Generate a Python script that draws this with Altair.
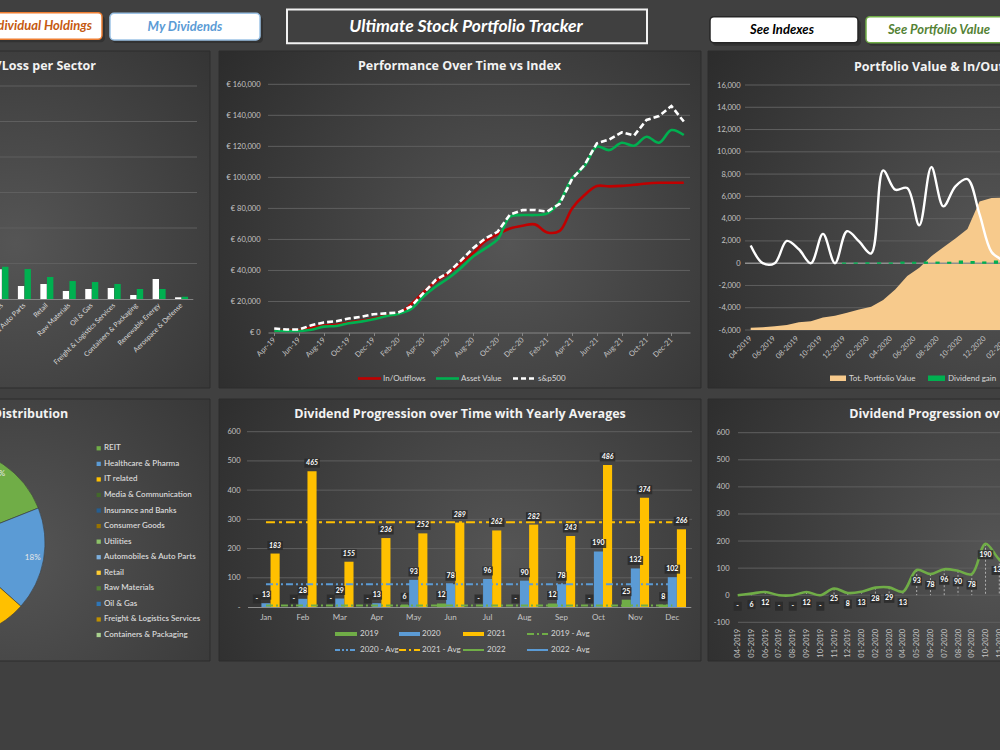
import altair as alt
import pandas as pd

W, H = 1000, 750
FONT = "Lato"
TFONT = "Open Sans"
LBL = "#c4c4c4"
LEG = "#d9d9d9"
GRID = "#5f5f5f"
TITLE = "#f2f2f2"

# ---------------- categories / tick labels ----------------
_months = pd.date_range("2019-04-01", periods=34, freq="MS")
perf_months = [d.strftime("%b-%y") for d in _months]      # Apr-19 ...
flow_months = [d.strftime("%m-%Y") for d in _months]      # 04-2019 ...
div_months = flow_months[:33]
month_names = ["Jan", "Feb", "Mar", "Apr", "May", "Jun", "Jul", "Aug", "Sep", "Oct", "Nov", "Dec"]
years = ["2019", "2020", "2021"]
sectors = ["REIT", "Healthcare & Pharma", "IT related", "Media & Communication",
           "Insurance and Banks", "Consumer Goods", "Utilities", "Automobiles & Auto Parts",
           "Retail", "Raw Materials", "Oil & Gas", "Freight & Logistics Services",
           "Containers & Packaging", "Renewable Energy", "Aerospace & Defense"]
pie_sectors = sectors[:13]

# ---------------- Gain/Loss per sector (EUR) ----------------
sector_invested = [17000, 15000, 12000, 8000, 7000, 6000, 4200, 1830, 2110, 1130, 1410, 1550, 560, 2820, 240]
sector_value = [24000, 21000, 19500, 9000, 8500, 7000, 4550, 4220, 3100, 2530, 2390, 2110, 1410, 1410, 320]

# ---------------- Performance over time vs index (EUR) ----------------
in_outflows = [1000, 1200, 1500, 3000, 4500, 5000, 6500, 7500, 9000, 10800, 12000, 18000,
               25800, 32700, 38000, 44500, 51000, 58900, 63400, 67000, 68800, 69700, 64500, 65500,
               80000, 88600, 94400, 94200, 94500, 95200, 96100, 96500, 96500, 96500]
asset_value = [1000, 900, 900, 1800, 3800, 4200, 6000, 7000, 8500, 10500, 12000, 15000,
               23000, 29500, 34800, 41300, 48800, 54200, 60000, 74600, 75700, 75700, 76800, 84300,
               99400, 107300, 119800, 117600, 122300, 120400, 126200, 122300, 130500, 127300]
sp500 = [2600, 1900, 1900, 4700, 6500, 7300, 9000, 10100, 11800, 12300, 12900, 16600,
         25200, 33800, 38500, 46000, 54200, 60600, 64900, 76100, 78900, 79000, 78000, 83000,
         99000, 108000, 122000, 124500, 129000, 127000, 137000, 139500, 146000, 136000]

# ---------------- Portfolio value & in/outflows (secondary category axis: 33 months) ----------------
monthly_flows = [1580, 0, 0, 2000, 1250, 0, 2630, 0, 2870, 1950,
                 870, 8330, 6600, 6750, 3400, 8630, 5100, 6900, 7550, 4400,
                 1000, 100, -3000, 1000, 13500, 8600, 5800, 200, 300, 700,
                 900, 400, 0]
portfolio_value = [-5790, -5760, -5670, -5550, -5310, -5220, -4870, -4720, -4450, -4150,
                   -3910, -3310, -2360, -1160, -420, 630, 1430, 2210, 3070, 5550,
                   5850, 5900, 6600, 8200, 9100, 10300, 10200, 10700, 10500, 11300,
                   11000, 11800, 11400]
dividend_gain = [8, 13, 28, 29, 13, 93, 78, 96, 90, 78, 190, 132, 102,
                 183, 465, 155, 236, 252, 289, 262, 282, 243, 486, 374, 266]   # from 12-2019

# ---------------- Sector distribution (%) ----------------
pie_share = [19.0, 17.6, 14.0, 10.0, 9.0, 8.0, 6.0, 5.0, 4.0, 3.0, 2.0, 1.4, 1.0]
pie_colors = ["#70ad47", "#5b9bd5", "#ffc000", "#43682b", "#255e91", "#997300", "#8cc168",
              "#7cafdd", "#ffcd33", "#548235", "#2e75b6", "#bf9000", "#a9d18e"]

# ---------------- Dividends ----------------
div_2019 = [0, 0, 0, 0, 6, 12, 0, 0, 12, 0, 25, 8]
div_2020 = [13, 28, 29, 13, 93, 78, 96, 90, 78, 190, 132, 102]
div_2021 = [183, 465, 155, 236, 252, 289, 262, 282, 243, 486, 374, 266]
yearly_avg = {"2019": 5, "2020": 78, "2021": 290}
monthly_dividends = [0, 6, 12, 0, 0, 12, 0, 25, 8,
                     13, 28, 29, 13, 93, 78, 96, 90, 78, 190, 132, 102,
                     183, 465, 155, 236, 252, 289, 262, 282, 243, 486, 374, 266]

# ================= helpers =================
one = pd.DataFrame({"k": [0]})
GRAD = {"gradient": "radial", "x1": 0.6, "y1": 0.55, "r1": 0, "x2": 0.6, "y2": 0.55, "r2": 0.75,
        "stops": [{"offset": 0, "color": "#555555"}, {"offset": 1, "color": "#2a2a2a"}]}


def deco_rect(x, x2, y, y2, **kw):
    return alt.Chart(one).mark_rect(**kw).encode(
        x=alt.value(x), x2=alt.value(x2), y=alt.value(y), y2=alt.value(y2))


def deco_text(txt, x, y, **kw):
    opts = dict(font=FONT, baseline="middle")
    opts.update(kw)
    return alt.Chart(one).mark_text(text=txt, **opts).encode(x=alt.value(x), y=alt.value(y))


def deco_line(x, x2, y, **kw):
    return alt.Chart(one).mark_rule(**kw).encode(x=alt.value(x), x2=alt.value(x2), y=alt.value(y))


def title(txt, x, y, align="center"):
    return deco_text(txt, x, y, align=align, fontSize=12.5, fontWeight="bold", color=TITLE, font=TFONT)


def grid(values, scale, axis, x, x2, color=GRID, width=1):
    return alt.Chart(pd.DataFrame({"g": values})).mark_rule(color=color, strokeWidth=width).encode(
        y=alt.Y("g:Q", scale=scale, axis=axis), x=alt.value(x), x2=alt.value(x2))


def ax_x(pos_y, **kw):
    base = dict(orient="bottom", offset=-(H - pos_y), title=None, grid=False, zindex=1,
                labelColor=LBL, labelFont=FONT, labelFontSize=7.5, labelOverlap=False,
                domainColor="#858585", ticks=False, tickSize=0)
    base.update(kw)
    return alt.Axis(**base)


def ax_y(pos_x, **kw):
    base = dict(orient="left", offset=-pos_x, title=None, grid=False, zindex=1, domain=False,
                ticks=False, tickSize=0, labelColor=LBL, labelFont=FONT, labelFontSize=7.5,
                labelOverlap=False)
    base.update(kw)
    return alt.Axis(**base)


NEG_FMT = "(datum.value < 0 ? '-' : '') + format(abs(datum.value), ',')"
BOX = ["M-0.8,-0.9H0.8V0.9H-0.8Z", "M-1.05,-0.9H1.05V0.9H-1.05Z", "M-1.55,-0.9H1.55V0.9H-1.55Z"]
box_scale = alt.Scale(domain=["1", "2", "3"], range=BOX)

layers = []

# ================= page decorations =================
for (x, x2, y, y2) in [(-275, 210, 51, 388), (219, 701, 51, 388), (708, 1191, 51, 388),
                       (-275, 210, 399, 661), (219, 701, 399, 661), (708, 1191, 399, 661)]:
    layers.append(deco_rect(x, x2, y, y2, fill=GRAD, stroke="#2c2c2c", strokeWidth=1))

# header buttons
for (x, x2, y, y2) in [(-20, 102, 12.7, 39.3), (110, 260, 13.3, 40), (710, 858, 16.7, 42.7), (866, 1010, 16.7, 42.7)]:
    layers.append(deco_rect(x + 2, x2 + 3, y + 3, y2 + 3, fill="#2a2a2a", opacity=0.6, cornerRadius=4))
layers += [
    deco_rect(-20, 102, 12.7, 39.3, fill="white", stroke="#ed7d31", strokeWidth=1.5, cornerRadius=4),
    deco_rect(110, 260, 13.3, 40, fill="white", stroke="#9dc3e6", strokeWidth=1.5, cornerRadius=4),
    deco_rect(287, 647, 9.5, 43.3, fill="#404040", stroke="#f2f2f2", strokeWidth=2),
    deco_rect(710, 858, 16.7, 42.7, fill="white", stroke="#262626", strokeWidth=1.5, cornerRadius=4),
    deco_rect(866, 1010, 16.7, 42.7, fill="white", stroke="#70ad47", strokeWidth=1.5, cornerRadius=4),
    deco_text("Individual Holdings", 92, 26, align="right", fontSize=13, fontWeight="bold",
              fontStyle="italic", color="#c55a11"),
    deco_text("My Dividends", 185, 26.7, align="center", fontSize=13, fontWeight="bold",
              fontStyle="italic", color="#5b9bd5"),
    deco_text("Ultimate Stock Portfolio Tracker", 466, 27, align="center", fontSize=17.5,
              fontWeight="bold", fontStyle="italic", color="white"),
    deco_text("See Indexes", 782, 30, align="center", fontSize=13, fontWeight="bold",
              fontStyle="italic", color="black"),
    deco_text("See Portfolio Value", 939, 30, align="center", fontSize=13, fontWeight="bold",
              fontStyle="italic", color="#548235"),
]

# ================= panel 1: gain/loss per sector =================
p1 = pd.DataFrame({"sector": sectors * 2,
                   "kind": ["Invested"] * 15 + ["Value"] * 15,
                   "amount": sector_invested + sector_value})
p1_x = alt.Scale(domain=sectors, range=[-144, 192.8], paddingInner=0.42, paddingOuter=0.21)
p1_y = alt.Scale(domain=[0, 30000], range=[299, 86], nice=False)
AX1X = ax_x(299, labelAngle=-45, labelAlign="right", labelBaseline="middle",
            labelPadding=5, labelFontSize=7, labelColor=LEG)
panel1 = alt.layer(
    grid(list(range(5000, 30001, 5000)), p1_y, None, -260, 197),
    alt.Chart(p1).mark_bar().encode(
        x=alt.X("sector:N", scale=p1_x, axis=AX1X),
        xOffset=alt.XOffset("kind:N", scale=alt.Scale(domain=["Invested", "Value"], paddingInner=0.04)),
        y=alt.Y("amount:Q", scale=p1_y, axis=None),
        color=alt.Color("kind:N", scale=alt.Scale(domain=["Invested", "Value"], range=["#ffffff", "#00b050"]),
                        legend=None),
    ),
)
layers += [panel1, title("Profit/Loss per Sector", 96, 66, align="right")]

# ================= panel 2: performance vs index =================
perf = pd.DataFrame({"i": range(34), "month": perf_months, "flows": in_outflows,
                     "asset": asset_value, "sp": sp500})
p2_x = alt.Scale(type="point", domain=perf_months, range=[268, 690], padding=0.5)
p2_y = alt.Scale(domain=[0, 160000], range=[332.5, 84.3], nice=False, zero=False)
AX2X = ax_x(332.5, values=perf_months[::2], labelAngle=-45, labelAlign="right",
            labelBaseline="middle", labelPadding=3, ticks=True, tickSize=3, tickColor="#858585")
AX2Y = ax_y(268, values=list(range(0, 160001, 20000)),
            labelExpr="'€ ' + format(datum.value, ',')", labelPadding=8)
base2 = alt.Chart(perf)
x2e = alt.X("month:N", scale=p2_x, axis=AX2X)
panel2 = alt.layer(
    grid(list(range(20000, 160001, 20000)), p2_y, AX2Y, 268, 690),
    base2.mark_line(color="#c00000", strokeWidth=2.6, interpolate="catmull-rom").encode(
        x=x2e, y=alt.Y("flows:Q", scale=p2_y, axis=AX2Y), order=alt.Order("i:Q")),
    base2.mark_line(color="#00b050", strokeWidth=2.6, interpolate="catmull-rom").encode(
        x=x2e, y=alt.Y("asset:Q", scale=p2_y, axis=AX2Y), order=alt.Order("i:Q")),
    base2.mark_line(color="#ffffff", strokeWidth=2.6, strokeDash=[6, 3]).encode(
        x=x2e, y=alt.Y("sp:Q", scale=p2_y, axis=AX2Y), order=alt.Order("i:Q")),
)
layers += [
    panel2,
    title("Performance Over Time vs Index", 459.5, 66),
    deco_line(358, 381, 378.5, color="#c00000", strokeWidth=2.6),
    deco_text("In/Outflows", 383, 378.5, align="left", fontSize=8, color=LEG),
    deco_line(436, 459, 378.5, color="#00b050", strokeWidth=2.6),
    deco_text("Asset Value", 461, 378.5, align="left", fontSize=8, color=LEG),
    deco_line(513, 536, 378.5, color="#ffffff", strokeWidth=2.6, strokeDash=[5, 3]),
    deco_text("s&p500", 538, 378.5, align="left", fontSize=8, color=LEG),
]

# ================= panel 3: portfolio value & in/outflows =================
sec = pd.DataFrame({"i": range(len(monthly_flows)), "flow": monthly_flows, "pv": portfolio_value})
gain = pd.DataFrame({"month": flow_months[8:8 + len(dividend_gain)], "gain": dividend_gain})
p3_x = alt.Scale(type="point", domain=flow_months, range=[744.66, 1142.1], padding=0.5)
p3s_x = alt.Scale(domain=[-0.5, len(monthly_flows) - 0.5], range=[744.66, 1142.1], nice=False, zero=False)
p3_y = alt.Scale(domain=[-6000, 16000], range=[330, 85], nice=False, zero=False)
AX3X = ax_x(330, values=flow_months[::2], labelAngle=-45, labelAlign="right",
            labelBaseline="middle", labelPadding=7, domain=False)
AX3Y = ax_y(745, values=list(range(-6000, 16001, 2000)), labelExpr=NEG_FMT, labelPadding=5)
panel3 = alt.layer(
    grid([v for v in range(-6000, 16001, 2000) if v != 0], p3_y, AX3Y, 745, 1191),
    alt.Chart(sec).transform_calculate(base="-6000").mark_area(color="#f7ca8c", opacity=1).encode(
        x=alt.X("i:Q", scale=p3s_x, axis=None),
        y=alt.Y("pv:Q", scale=p3_y, axis=AX3Y), y2=alt.Y2("base:Q")),
    alt.layer(
        grid([0], p3_y, AX3Y, 745, 1191, color="#8f8f8f", width=1.5),
        alt.Chart(gain).mark_bar(color="#00b050", stroke="#00b050", strokeWidth=1.2, size=3).encode(
            x=alt.X("month:N", scale=p3_x, axis=AX3X), y=alt.Y("gain:Q", scale=p3_y, axis=AX3Y)),
    ),
    alt.Chart(sec).mark_line(color="#ffffff", strokeWidth=2.4, interpolate="catmull-rom").encode(
        x=alt.X("i:Q", scale=p3s_x, axis=None), y=alt.Y("flow:Q", scale=p3_y, axis=AX3Y)),
).resolve_scale(x="independent")
layers += [
    panel3,
    title("Portfolio Value & In/Outflows", 854, 66.5, align="left"),
    deco_rect(830, 846, 375.5, 381, fill="#f7ca8c"),
    deco_text("Tot. Portfolio Value", 849, 378.5, align="left", fontSize=8, color=LEG),
    deco_rect(928, 945, 375.5, 381, fill="#00b050"),
    deco_text("Dividend gain", 948, 378.5, align="left", fontSize=8, color=LEG),
]

# ================= panel 4: sector distribution =================
pie = pd.DataFrame({"sector": pie_sectors, "share": pie_share, "idx": range(13)})
pie_color = alt.Scale(domain=pie_sectors, range=pie_colors)
leg_y = alt.Scale(type="point", domain=pie_sectors, range=[448.3, 635], padding=0)
panel4 = alt.layer(
    alt.Chart(pie).mark_arc(outerRadius=95, stroke="#3a3a3a", strokeWidth=0.6).encode(
        theta=alt.Theta("share:Q", stack=True),
        order=alt.Order("idx:Q"),
        color=alt.Color("sector:N", scale=pie_color, legend=None),
        x=alt.value(-50), y=alt.value(543)),
    alt.Chart(pie).transform_calculate(lab="format(round(datum.share), 'd') + '%'").mark_text(
        radius=84, fontSize=8, color="#e8e8e8", font=FONT).encode(
        theta=alt.Theta("share:Q", stack=True),
        order=alt.Order("idx:Q"),
        text="lab:N", x=alt.value(-50), y=alt.value(543)),
    alt.Chart(pie).mark_square(size=18, opacity=1).encode(
        x=alt.value(98.7), y=alt.Y("sector:N", scale=leg_y, axis=None),
        color=alt.Color("sector:N", scale=pie_color, legend=None)),
    alt.Chart(pie).mark_text(align="left", baseline="middle", fontSize=8, color=LEG, font=FONT,
                             fontWeight=600).encode(
        x=alt.value(104), y=alt.Y("sector:N", scale=leg_y, axis=None), text="sector:N"),
)
layers += [panel4, title("Sector Distribution", 68.3, 413.5, align="right")]

# ================= panel 5: dividends per month with yearly averages =================
rows = []
for yr, vals in zip(years, [div_2019, div_2020, div_2021]):
    for m, v in zip(month_names, vals):
        rows.append({"month": m, "year": yr, "v": v})
p5 = pd.DataFrame(rows)
avg_rows = [{"month": m, "year": yr, "avg": a} for yr, a in yearly_avg.items() for m in month_names]
p5avg = pd.DataFrame(avg_rows)
p5_x = alt.Scale(domain=month_names, range=[247.5, 690.8], paddingInner=0.26, paddingOuter=0.13)
p5_off = alt.Scale(domain=years, paddingInner=0, paddingOuter=0)
p5_y = alt.Scale(domain=[0, 600], range=[607, 431.7], nice=False)
year_colors = alt.Scale(domain=years, range=["#70ad47", "#5b9bd5", "#ffc000"])
AX5X = ax_x(607, labelAngle=0, labelPadding=6, labelFontSize=8, domainColor="#8f8f8f")
AX5Y = ax_y(247, values=list(range(0, 601, 100)),
            labelExpr="datum.value == 0 ? '-' : format(datum.value, 'd')", labelPadding=7)
lab5 = "datum.v == 0 ? '-' : format(datum.v, 'd')"


def avg_line(yr, color, dash):
    return alt.Chart(p5avg).transform_filter(f"datum.year == '{yr}'").mark_line(
        color=color, strokeWidth=2, strokeDash=dash).encode(
        x=alt.X("month:N", scale=p5_x, axis=AX5X, bandPosition=0.5),
        y=alt.Y("avg:Q", scale=p5_y, axis=AX5Y))


def labels5(flt, italic):
    base = alt.Chart(p5).transform_filter(flt).transform_calculate(lab=lab5).transform_calculate(
        n="'' + length(datum.lab)")
    enc = dict(x=alt.X("month:N", scale=p5_x, axis=AX5X),
               xOffset=alt.XOffset("year:N", scale=p5_off),
               y=alt.Y("v:Q", scale=p5_y, axis=AX5Y))
    boxes = base.mark_point(filled=True, size=100, color="#2a2a2a", opacity=0.85, yOffset=-8).encode(
        shape=alt.Shape("n:N", scale=box_scale, legend=None), **enc)
    texts = base.mark_text(dy=-8, fontSize=7, fontWeight="bold", color="white", font=FONT,
                           fontStyle="italic" if italic else "normal").encode(text="lab:N", **enc)
    return [boxes, texts]


panel5 = alt.layer(
    grid(list(range(100, 601, 100)), p5_y, AX5Y, 247, 692),
    alt.Chart(p5).mark_bar().encode(
        x=alt.X("month:N", scale=p5_x, axis=AX5X),
        xOffset=alt.XOffset("year:N", scale=p5_off),
        y=alt.Y("v:Q", scale=p5_y, axis=AX5Y),
        color=alt.Color("year:N", scale=year_colors, legend=None)),
    avg_line("2019", "#70ad47", [7, 3, 2, 3]),
    avg_line("2020", "#5b9bd5", [7, 3, 2, 3, 2, 3]),
    avg_line("2021", "#ffc000", [9, 4, 3, 4]),
    *labels5("datum.year != '2021'", False),
    *labels5("datum.year == '2021'", True),
)
layers += [
    panel5,
    title("Dividend Progression over Time with Yearly Averages", 460, 413.5),
    deco_rect(335, 357, 632, 636, fill="#70ad47"),
    deco_text("2019", 360, 634, align="left", fontSize=8, color=LEG),
    deco_rect(399, 420, 632, 636, fill="#5b9bd5"),
    deco_text("2020", 422, 634, align="left", fontSize=8, color=LEG),
    deco_rect(463, 484, 632, 636, fill="#ffc000"),
    deco_text("2021", 487, 634, align="left", fontSize=8, color=LEG),
    deco_line(527, 548, 634, color="#70ad47", strokeWidth=2, strokeDash=[7, 3, 2, 3]),
    deco_text("2019 - Avg", 551, 634, align="left", fontSize=8, color=LEG),
    deco_line(335, 357, 650, color="#5b9bd5", strokeWidth=2, strokeDash=[5, 2, 2, 2, 2, 2]),
    deco_text("2020 - Avg", 360, 650, align="left", fontSize=8, color=LEG),
    deco_line(399, 420, 650, color="#ffc000", strokeWidth=2, strokeDash=[7, 3, 2, 3]),
    deco_text("2021 - Avg", 422, 650, align="left", fontSize=8, color=LEG),
    deco_line(463, 484, 650, color="#70ad47", strokeWidth=2),
    deco_text("2022", 487, 650, align="left", fontSize=8, color=LEG),
    deco_line(527, 548, 650, color="#5b9bd5", strokeWidth=2),
    deco_text("2022 - Avg", 551, 650, align="left", fontSize=8, color=LEG),
]

# ================= panel 6: dividend progression over time =================
divdf = pd.DataFrame({"i": range(33), "month": div_months, "v": monthly_dividends})
p6_x = alt.Scale(type="point", domain=div_months, range=[730.8, 1185.2], padding=0.5)
p6_y = alt.Scale(domain=[-100, 600], range=[622.3, 432.7], nice=False, zero=False)
AX6X = ax_x(622.3, labelAngle=-90, labelAlign="right", labelBaseline="middle",
            labelPadding=6, domain=False)
AX6Y = ax_y(738, values=list(range(-100, 601, 100)), labelExpr=NEG_FMT, labelPadding=9)
base6 = alt.Chart(divdf).transform_calculate(lab=lab5).transform_calculate(n="'' + length(datum.lab)")
x6 = alt.X("month:N", scale=p6_x, axis=AX6X)
y6 = alt.Y("v:Q", scale=p6_y, axis=AX6Y)
panel6 = alt.layer(
    grid(list(range(-100, 601, 100)), p6_y, AX6Y, 738, 1191),
    alt.Chart(divdf).transform_calculate(zero="0").mark_rule(
        color="#c8c8c8", strokeWidth=0.8, strokeDash=[2, 2]).encode(
        x=x6, y=y6, y2=alt.Y2("zero:Q")),
    alt.Chart(divdf).mark_line(color="#70ad47", strokeWidth=2.6, interpolate="catmull-rom").encode(
        x=x6, y=y6, order=alt.Order("i:Q")),
    base6.mark_point(filled=True, size=100, color="#2a2a2a", opacity=0.85, yOffset=11).encode(
        x=x6, y=y6, shape=alt.Shape("n:N", scale=box_scale, legend=None)),
    base6.mark_text(dy=11, fontSize=7, fontWeight="bold", color="white", font=FONT).encode(
        x=x6, y=y6, text="lab:N"),
)
layers += [panel6, title("Dividend Progression over Time", 849.3, 414, align="left")]

chart = alt.layer(*layers).resolve_scale(
    x="independent", y="independent", color="independent", xOffset="independent",
    shape="independent", theta="independent"
).properties(
    width=W, height=H, autosize=alt.AutoSizeParams(type="none"), padding=0
).configure(background="#404040").configure_view(stroke=None)

chart.save("out.html", embed_options={"renderer": "svg", "actions": False})
